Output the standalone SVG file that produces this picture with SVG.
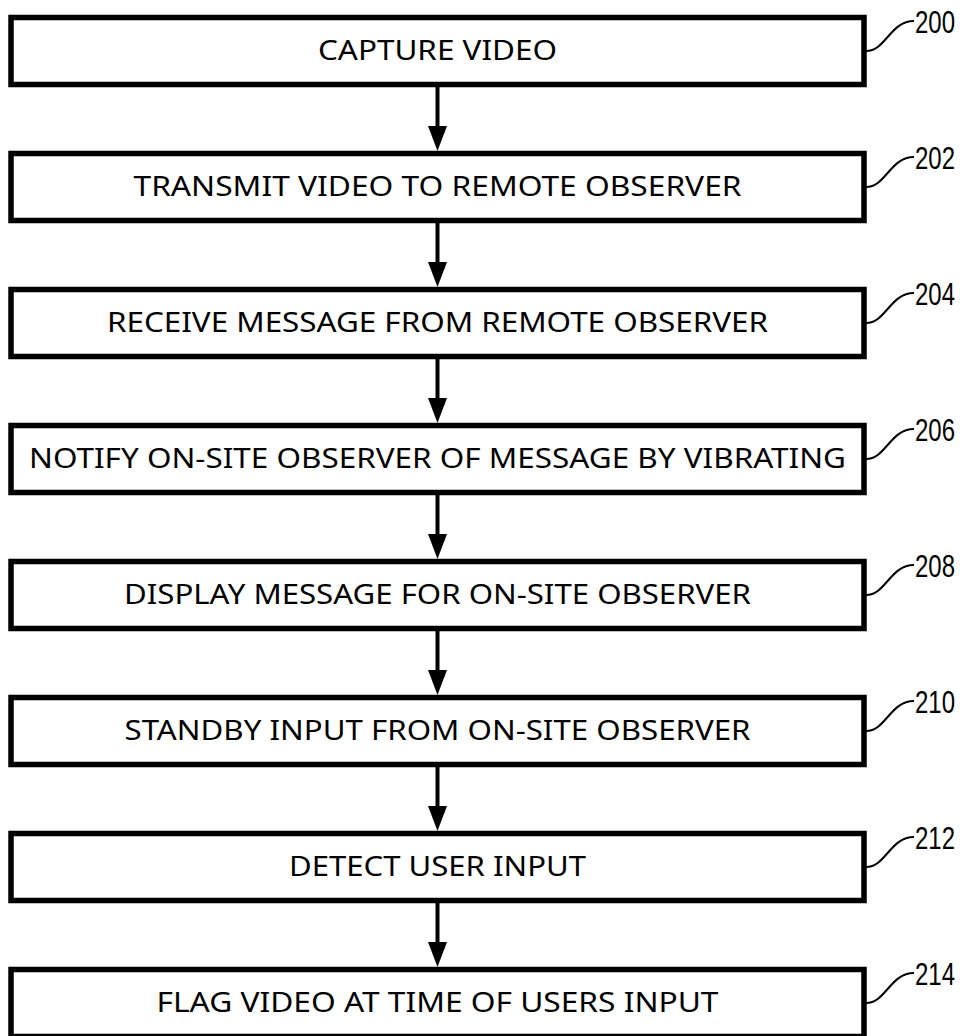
<svg xmlns="http://www.w3.org/2000/svg" xmlns:xlink="http://www.w3.org/1999/xlink" width="968" height="1036" viewBox="0 0 968 1036">
<style>
.box{fill:#fff;stroke:#000;stroke-width:5.5}
.t{font-family:"Noto Sans","Liberation Sans",sans-serif;font-size:27.5px;fill:#000;text-anchor:middle}
.ref{font-family:"Liberation Sans Narrow","Liberation Sans",sans-serif;font-size:31px;fill:#000}
.lead{fill:none;stroke:#000;stroke-width:2}
.conn{stroke:#000;stroke-width:4}
</style>
<defs>
<path id="ah" d="M-9.5,-25 L9.5,-25 L0,0 Z" fill="#000"/>
</defs>
<rect width="968" height="1036" fill="#fff"/>
<g id="connectors">
<line class="conn" x1="437.5" y1="84" x2="437.5" y2="130"/><use xlink:href="#ah" x="437.5" y="151"/>
<line class="conn" x1="437.5" y1="220" x2="437.5" y2="266"/><use xlink:href="#ah" x="437.5" y="287"/>
<line class="conn" x1="437.5" y1="356" x2="437.5" y2="402"/><use xlink:href="#ah" x="437.5" y="423"/>
<line class="conn" x1="437.5" y1="492" x2="437.5" y2="538"/><use xlink:href="#ah" x="437.5" y="559"/>
<line class="conn" x1="437.5" y1="628" x2="437.5" y2="674"/><use xlink:href="#ah" x="437.5" y="695"/>
<line class="conn" x1="437.5" y1="764" x2="437.5" y2="810"/><use xlink:href="#ah" x="437.5" y="831"/>
<line class="conn" x1="437.5" y1="900" x2="437.5" y2="946"/><use xlink:href="#ah" x="437.5" y="967"/>
</g>
<g id="n200">
<rect class="box" x="11" y="17.5" width="853" height="67"/>
<text class="t" x="437.5" y="60" textLength="239" lengthAdjust="spacingAndGlyphs">CAPTURE VIDEO</text>
<path class="lead" d="M866,51 C886,51 890,21 914,21"/>
<text class="ref" x="915" y="33" textLength="40" lengthAdjust="spacingAndGlyphs">200</text>
</g>
<g id="n202">
<rect class="box" x="11" y="153.5" width="853" height="67"/>
<text class="t" x="437.5" y="196" textLength="608" lengthAdjust="spacingAndGlyphs">TRANSMIT VIDEO TO REMOTE OBSERVER</text>
<path class="lead" d="M866,187 C886,187 890,157 914,157"/>
<text class="ref" x="915" y="169" textLength="40" lengthAdjust="spacingAndGlyphs">202</text>
</g>
<g id="n204">
<rect class="box" x="11" y="289.5" width="853" height="67"/>
<text class="t" x="437.5" y="332" textLength="661" lengthAdjust="spacingAndGlyphs">RECEIVE MESSAGE FROM REMOTE OBSERVER</text>
<path class="lead" d="M866,323 C886,323 890,293 914,293"/>
<text class="ref" x="915" y="305" textLength="40" lengthAdjust="spacingAndGlyphs">204</text>
</g>
<g id="n206">
<rect class="box" x="11" y="425.5" width="853" height="67"/>
<text class="t" x="437.5" y="468" textLength="817" lengthAdjust="spacingAndGlyphs">NOTIFY ON-SITE OBSERVER OF MESSAGE BY VIBRATING</text>
<path class="lead" d="M866,459 C886,459 890,429 914,429"/>
<text class="ref" x="915" y="441" textLength="40" lengthAdjust="spacingAndGlyphs">206</text>
</g>
<g id="n208">
<rect class="box" x="11" y="561.5" width="853" height="67"/>
<text class="t" x="437.5" y="604" textLength="627" lengthAdjust="spacingAndGlyphs">DISPLAY MESSAGE FOR ON-SITE OBSERVER</text>
<path class="lead" d="M866,595 C886,595 890,565 914,565"/>
<text class="ref" x="915" y="577" textLength="40" lengthAdjust="spacingAndGlyphs">208</text>
</g>
<g id="n210">
<rect class="box" x="11" y="697.5" width="853" height="67"/>
<text class="t" x="437.5" y="740" textLength="626" lengthAdjust="spacingAndGlyphs">STANDBY INPUT FROM ON-SITE OBSERVER</text>
<path class="lead" d="M866,731 C886,731 890,701 914,701"/>
<text class="ref" x="915" y="713" textLength="40" lengthAdjust="spacingAndGlyphs">210</text>
</g>
<g id="n212">
<rect class="box" x="11" y="833.5" width="853" height="67"/>
<text class="t" x="437.5" y="876" textLength="297" lengthAdjust="spacingAndGlyphs">DETECT USER INPUT</text>
<path class="lead" d="M866,867 C886,867 890,837 914,837"/>
<text class="ref" x="915" y="849" textLength="40" lengthAdjust="spacingAndGlyphs">212</text>
</g>
<g id="n214">
<rect class="box" x="11" y="969.5" width="853" height="67"/>
<text class="t" x="437.5" y="1012" textLength="562" lengthAdjust="spacingAndGlyphs">FLAG VIDEO AT TIME OF USERS INPUT</text>
<path class="lead" d="M866,1003 C886,1003 890,973 914,973"/>
<text class="ref" x="915" y="985" textLength="40" lengthAdjust="spacingAndGlyphs">214</text>
</g>
</svg>
